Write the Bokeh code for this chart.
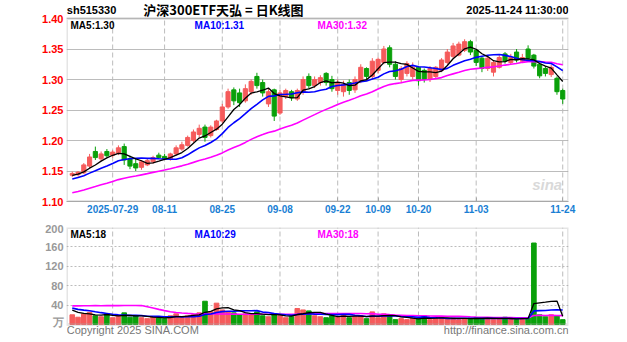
import pandas as pd
from bokeh.plotting import figure
from bokeh.layouts import column
from bokeh.models import ColumnDataSource, Range1d, FixedTicker, Label, BoxAnnotation
from bokeh.embed import file_html
from bokeh.resources import INLINE

# ---------------- data ----------------
holidays = ["2025-10-01", "2025-10-02", "2025-10-03", "2025-10-06", "2025-10-07", "2025-10-08"]
days = [d for d in pd.bdate_range("2025-07-18", "2025-11-24") if d.strftime("%Y-%m-%d") not in holidays]
dates = [d.strftime("%Y-%m-%d") for d in days]

opens = [1.143, 1.144, 1.147, 1.158, 1.182, 1.170, 1.182, 1.176, 1.179, 1.190,
         1.170, 1.162, 1.156, 1.160, 1.165, 1.176, 1.174, 1.170, 1.178, 1.186,
         1.192, 1.200, 1.210, 1.222, 1.208, 1.218, 1.232, 1.255, 1.283, 1.278,
         1.265, 1.280, 1.305, 1.295, 1.260, 1.283, 1.245, 1.272, 1.280, 1.268,
         1.280, 1.305, 1.290, 1.295, 1.310, 1.300, 1.282, 1.280, 1.295, 1.283,
         1.298, 1.318, 1.305, 1.315, 1.328, 1.352, 1.325, 1.300, 1.310, 1.305,
         1.320, 1.315, 1.300, 1.305, 1.315, 1.328, 1.338, 1.340, 1.348, 1.362,
         1.348, 1.335, 1.318, 1.312, 1.320, 1.342, 1.328, 1.345, 1.330, 1.350,
         1.340, 1.325, 1.318, 1.308, 1.302, 1.282]
highs = [1.149, 1.150, 1.163, 1.178, 1.190, 1.182, 1.186, 1.184, 1.192, 1.195,
         1.175, 1.170, 1.168, 1.170, 1.175, 1.180, 1.178, 1.180, 1.192, 1.198,
         1.208, 1.218, 1.226, 1.226, 1.225, 1.234, 1.260, 1.285, 1.287, 1.285,
         1.292, 1.300, 1.311, 1.300, 1.285, 1.285, 1.283, 1.285, 1.283, 1.285,
         1.305, 1.310, 1.305, 1.307, 1.312, 1.306, 1.300, 1.298, 1.300, 1.305,
         1.325, 1.320, 1.335, 1.336, 1.355, 1.356, 1.330, 1.322, 1.330, 1.328,
         1.322, 1.318, 1.322, 1.322, 1.335, 1.350, 1.360, 1.362, 1.366, 1.365,
         1.350, 1.338, 1.338, 1.332, 1.340, 1.345, 1.342, 1.350, 1.342, 1.356,
         1.342, 1.328, 1.322, 1.324, 1.305, 1.285]
lows = [1.140, 1.141, 1.145, 1.155, 1.168, 1.166, 1.172, 1.172, 1.176, 1.160,
        1.153, 1.150, 1.152, 1.158, 1.162, 1.170, 1.168, 1.167, 1.175, 1.183,
        1.190, 1.197, 1.205, 1.198, 1.205, 1.216, 1.228, 1.252, 1.258, 1.255,
        1.262, 1.275, 1.285, 1.272, 1.255, 1.232, 1.242, 1.268, 1.265, 1.265,
        1.275, 1.285, 1.286, 1.290, 1.290, 1.280, 1.275, 1.272, 1.275, 1.278,
        1.294, 1.300, 1.300, 1.310, 1.325, 1.320, 1.300, 1.294, 1.305, 1.300,
        1.290, 1.295, 1.296, 1.302, 1.312, 1.325, 1.335, 1.338, 1.345, 1.340,
        1.322, 1.312, 1.314, 1.305, 1.318, 1.326, 1.325, 1.328, 1.327, 1.332,
        1.318, 1.302, 1.305, 1.304, 1.275, 1.260]
closes = [1.146, 1.148, 1.160, 1.173, 1.172, 1.178, 1.175, 1.181, 1.188, 1.168,
          1.158, 1.155, 1.165, 1.167, 1.172, 1.172, 1.170, 1.178, 1.188, 1.193,
          1.205, 1.214, 1.220, 1.205, 1.222, 1.232, 1.255, 1.280, 1.265, 1.262,
          1.285, 1.297, 1.290, 1.278, 1.280, 1.240, 1.278, 1.282, 1.270, 1.282,
          1.300, 1.290, 1.300, 1.303, 1.295, 1.285, 1.295, 1.292, 1.282, 1.300,
          1.320, 1.305, 1.330, 1.333, 1.350, 1.325, 1.305, 1.318, 1.326, 1.320,
          1.298, 1.300, 1.318, 1.320, 1.332, 1.345, 1.355, 1.358, 1.362, 1.345,
          1.328, 1.318, 1.335, 1.328, 1.336, 1.330, 1.336, 1.332, 1.336, 1.335,
          1.322, 1.306, 1.310, 1.320, 1.280, 1.268]
volumes = [20, 15, 22, 25, 18, 16, 22, 14, 18, 24,
           15, 18, 14, 12, 16, 14, 12, 18, 22, 16,
           18, 20, 24, 48, 26, 44, 30, 26, 24, 20,
           22, 20, 26, 18, 16, 22, 18, 14, 16, 33,
           30, 28, 18, 16, 14, 18, 16, 22, 14, 16,
           18, 12, 26, 14, 22, 20, 10, 12, 10, 13,
           12, 18, 10, 12, 16, 12, 13, 10, 12, 13,
           14, 14, 13, 10, 12, 15, 12, 10, 12, 14,
           168, 20, 16, 20, 18, 10]
# sessions before the visible window (only feed the moving averages)
prior_close = [1.082, 1.085, 1.088, 1.090, 1.092, 1.095, 1.094, 1.098, 1.100, 1.102,
               1.104, 1.106, 1.108, 1.110, 1.112, 1.114, 1.116, 1.118, 1.120, 1.122,
               1.126, 1.129, 1.131, 1.133, 1.136, 1.139, 1.141, 1.143, 1.146]
prior_volume = [18, 16, 20, 15, 18, 17, 16, 19, 18, 15, 17, 16,
                80, 95, 100, 90, 85, 75,
                45, 42, 40, 38, 36, 40, 35, 38, 32, 30, 28]

tick_labels = ["2025-07-29", "08-11", "08-25", "09-08", "09-22", "10-09", "10-20", "11-03", "11-24"]
tick_dates = ["2025-07-29", "2025-08-11", "2025-08-25", "2025-09-08", "2025-09-22",
              "2025-10-09", "2025-10-20", "2025-11-03", "2025-11-24"]
price_ticks = [1.10, 1.15, 1.20, 1.25, 1.30, 1.35, 1.40]
vol_ticks = [40, 80, 120, 160, 200]
price_legend = ["MA5:1.30", "MA10:1.31", "MA30:1.32"]
vol_legend = ["MA5:18", "MA10:29", "MA30:18"]

code = "sh515330"
title = "沪深300ETF天弘 = 日K线图"
stamp = "2025-11-24 11:30:00"

# ---------------- derived ----------------
n = len(closes)
idx = list(range(n))
tick_idx = [dates.index(d) for d in tick_dates]
overrides = {i: t for i, t in zip(tick_idx, tick_labels)}

UP = "#f55b5b"
DOWN = "#0aa00a"
colors = [UP if c >= o else DOWN for o, c in zip(opens, closes)]
body_top = [max(o, c) for o, c in zip(opens, closes)]
body_bot = [min(o, c) for o, c in zip(opens, closes)]

allc = pd.Series(prior_close + closes)
allv = pd.Series(prior_volume + volumes)
k = len(prior_close)
ma5 = allc.rolling(5).mean().tolist()[k:]
ma10 = allc.rolling(10).mean().tolist()[k:]
ma30 = allc.rolling(30).mean().tolist()[k:]
vma5 = allv.rolling(5).mean().tolist()[k:]
vma10 = allv.rolling(10).mean().tolist()[k:]
vma30 = allv.rolling(30).mean().tolist()[k:]

src = ColumnDataSource(dict(x=idx, o=opens, h=highs, l=lows, c=closes, top=body_top, bot=body_bot,
                            color=colors, vol=volumes, ma5=ma5, ma10=ma10, ma30=ma30,
                            vma5=vma5, vma10=vma10, vma30=vma30))

GRAY = "#a8a8a8"
GRID = "#bcbcbc"
FONT = "Liberation Sans"
X0, X1 = -1.0, 86.0
P_LO, P_HI = 1.10, 1.40
V_LO, V_HI = 0, 200


def lab(p, x, y, text, color="#000000", size="11px", align="left", font=FONT, style="bold"):
    p.add_layout(Label(x=x, y=y, text=text, text_color=color, text_font_size=size,
                       text_align=align, text_baseline="middle", text_font=font,
                       text_font_style=style))


def style_yaxis(ax, color):
    ax.major_label_text_color = color
    ax.major_label_text_font_style = "bold"
    ax.major_label_text_font_size = "11px"
    ax.major_label_text_font = FONT
    ax.axis_line_color = None
    ax.major_tick_out = 0
    ax.major_tick_in = 0
    ax.minor_tick_line_color = None
    ax.major_label_standoff = 3


# ---------------- price panel (frame extended upward to hold the header) ----------------
p1 = figure(width=627, height=222, x_range=Range1d(X0, X1),
            y_range=Range1d(P_LO, P_HI + 18 / 183 * (P_HI - P_LO)),
            output_backend="svg", toolbar_location=None,
            min_border_left=66, min_border_right=59, min_border_top=0, min_border_bottom=21)
p1.outline_line_color = None
p1.background_fill_color = "white"

p1.segment(x0=tick_idx, x1=tick_idx, y0=[P_LO] * len(tick_idx), y1=[P_HI] * len(tick_idx),
           line_color=GRID, line_dash="5 3", line_width=1)
p1.segment(x0="x", x1="x", y0="l", y1="h", color="color", line_width=1, source=src)
p1.vbar(x="x", width=0.72, top="top", bottom="bot", fill_color="color", line_color="color", source=src)
p1.line(x="x", y="ma30", color="#ff00ff", line_width=1.6, source=src)
p1.line(x="x", y="ma10", color="#0000ff", line_width=1.6, source=src)
p1.line(x="x", y="ma5", color="#000000", line_width=1.3, source=src)
p1.add_layout(BoxAnnotation(left=X0, right=X1, bottom=P_LO, top=P_HI, fill_alpha=0,
                            line_color=GRAY, line_width=3))

p1.yaxis.ticker = FixedTicker(ticks=price_ticks)
p1.yaxis.major_label_overrides = {t: f"{t:.2f}" for t in price_ticks}
style_yaxis(p1.yaxis, "#ff0000")

p1.xaxis.ticker = FixedTicker(ticks=tick_idx)
p1.xaxis.major_label_overrides = overrides
p1.xaxis.major_label_text_color = "#1a7fd4"
p1.xaxis.major_label_text_font_size = "10px"
p1.xaxis.major_label_text_font_style = "bold"
p1.xaxis.major_label_text_font = FONT
p1.xaxis.axis_line_color = GRAY
p1.xaxis.major_tick_line_color = GRAY
p1.xaxis.major_tick_in = 4
p1.xaxis.major_tick_out = 0
p1.xaxis.minor_tick_line_color = None
p1.xaxis.major_label_standoff = 3

p1.ygrid.ticker = FixedTicker(ticks=price_ticks)
p1.ygrid.grid_line_color = GRID
p1.xgrid.grid_line_color = None

head_y = P_HI + 9 / 183 * (P_HI - P_LO)
leg_y = P_HI - 7 / 183 * (P_HI - P_LO)
lab(p1, X0 + 0.05, head_y, code)
lab(p1, 26.2, head_y, title, size="13px", align="center", font="Noto Sans CJK SC")
lab(p1, X1, head_y, stamp, align="right")
lab(p1, -0.3, leg_y, price_legend[0], size="10px")
lab(p1, 21.2, leg_y, price_legend[1], color="#0000ff", size="10px")
lab(p1, 42.5, leg_y, price_legend[2], color="#ff00ff", size="10px")
lab(p1, 82.3, 1.128, "sina", color="#d9d9d9", size="15px", align="center", style="bold italic")

# ---------------- volume panel (frame extended downward to hold the footer) ----------------
v_pad = 18 / 97 * (V_HI - V_LO)
p2 = figure(width=627, height=120, x_range=p1.x_range, y_range=Range1d(V_LO - v_pad, V_HI),
            output_backend="svg", toolbar_location=None,
            min_border_left=66, min_border_right=59, min_border_top=5, min_border_bottom=0)
p2.outline_line_color = None

p2.segment(x0=tick_idx, x1=tick_idx, y0=[V_LO] * len(tick_idx), y1=[V_HI] * len(tick_idx),
           line_color=GRID, line_dash="5 3", line_width=1)
p2.vbar(x="x", width=0.8, top="vol", bottom=0, fill_color="color", line_color="color", source=src)
p2.line(x="x", y="vma30", color="#ff00ff", line_width=1.6, source=src)
p2.line(x="x", y="vma10", color="#0000ff", line_width=1.6, source=src)
p2.line(x="x", y="vma5", color="#000000", line_width=1.3, source=src)
p2.add_layout(BoxAnnotation(left=X0, right=X1, bottom=V_LO, top=V_HI, fill_alpha=0,
                            line_color=GRAY, line_width=3))

p2.xaxis.visible = False
p2.xgrid.grid_line_color = None
p2.yaxis.ticker = FixedTicker(ticks=[6] + vol_ticks)
p2.yaxis.major_label_overrides = {6: "万"}
style_yaxis(p2.yaxis, "#999999")

p2.ygrid.ticker = FixedTicker(ticks=vol_ticks)
p2.ygrid.grid_line_color = GRID
p2.ygrid.grid_line_dash = "2 2"

vleg_y = V_HI - 7 / 97 * (V_HI - V_LO)
foot_y = V_LO - 5 / 97 * (V_HI - V_LO)
lab(p2, -0.3, vleg_y, vol_legend[0], size="10px")
lab(p2, 21.2, vleg_y, vol_legend[1], color="#0000ff", size="10px")
lab(p2, 42.5, vleg_y, vol_legend[2], color="#ff00ff", size="10px")
lab(p2, X0 + 0.05, foot_y, "Copyright 2025 SINA.COM", color="#777777", size="11px", style="normal")
lab(p2, X1, foot_y, "http://finance.sina.com.cn", color="#777777", size="11px", align="right", style="normal")

layout = column(p1, p2, spacing=0)
open("out.html", "w").write(file_html(layout, INLINE))
